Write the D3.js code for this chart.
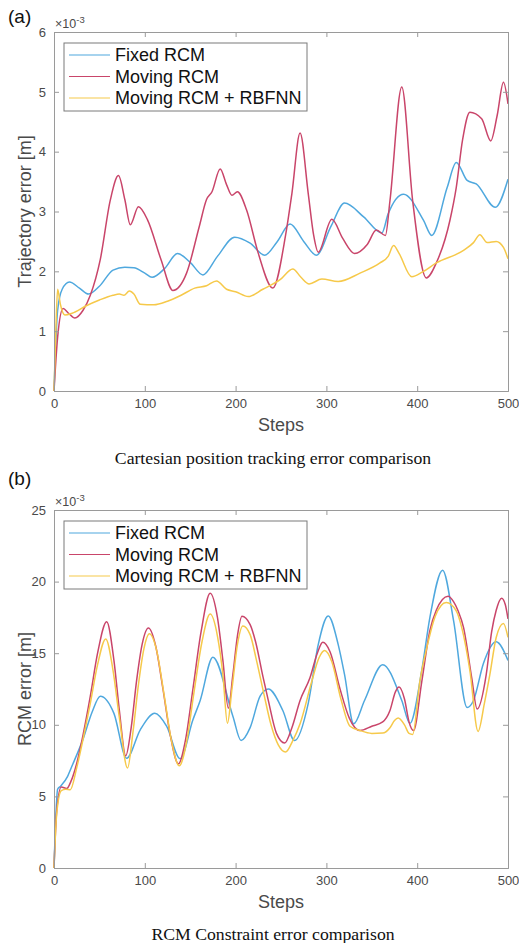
<!DOCTYPE html>
<html>
<head>
<meta charset="utf-8">
<script src="https://cdn.jsdelivr.net/npm/d3@7"></script>
<style>
  body { margin: 0; background: #fff; }
  svg { display: block; }
</style>
</head>
<body>
<svg id="chart"></svg>
<script>
// ---- data (values in units of 1e-3 m) ----
const seriesNames = ['Fixed RCM', 'Moving RCM', 'Moving RCM + RBFNN'];
const seriesColors = ['#4fa8de', '#c9456a', '#f6c94a'];
const xTicks = [0, 100, 200, 300, 400, 500];

// (a) trajectory error
const fixedTrajSteps = [0, 4, 9, 17, 28, 38, 50, 65, 78, 88, 100, 108, 122, 136, 150, 164, 180, 199, 216, 232, 246, 260, 275, 289, 305, 320, 341, 361, 368, 385, 407, 416, 433, 443, 455, 465, 486, 500];
const fixedTrajValues = [0, 1.35, 1.7, 1.82, 1.72, 1.62, 1.75, 2.02, 2.07, 2.06, 1.97, 1.9, 2.05, 2.3, 2.15, 1.94, 2.25, 2.57, 2.47, 2.27, 2.5, 2.79, 2.5, 2.27, 2.75, 3.14, 2.91, 2.64, 2.96, 3.29, 2.85, 2.6, 3.4, 3.82, 3.52, 3.46, 3.07, 3.54];

const movingTrajSteps = [0, 4, 10, 16, 23, 32, 40, 51, 62, 71, 78, 84, 93, 103, 118, 131, 146, 160, 168, 174, 183, 190, 196, 202, 212, 225, 241, 255, 262, 271, 280, 286, 291, 306, 318, 331, 345, 355, 365, 370, 383, 395, 410, 421, 436, 443, 450, 458, 471, 481, 488, 495, 500];
const movingTrajValues = [0, 0.9, 1.38, 1.3, 1.22, 1.35, 1.6, 2.2, 3.19, 3.6, 3.2, 2.78, 3.08, 2.86, 2.19, 1.68, 1.97, 2.75, 3.2, 3.33, 3.71, 3.45, 3.27, 3.33, 3.03, 2.3, 1.72, 2.6, 3.3, 4.31, 3.3, 2.6, 2.32, 2.87, 2.55, 2.3, 2.45, 2.69, 2.6, 3.18, 5.08, 3.18, 1.89, 2.14, 2.85, 3.4, 4.2, 4.66, 4.55, 4.18, 4.6, 5.16, 4.8];

const rbfTrajSteps = [0, 2, 4, 7, 12, 20, 35, 50, 65, 72, 77, 83, 88, 95, 110, 125, 140, 155, 168, 179, 190, 200, 214, 230, 249, 263, 272, 281, 295, 313, 337, 359, 368, 374, 380, 394, 406, 421, 451, 462, 469, 477, 487, 495, 500];
const rbfTrajValues = [0, 1.0, 1.7, 1.45, 1.27, 1.3, 1.42, 1.52, 1.6, 1.62, 1.6, 1.67, 1.62, 1.45, 1.44, 1.5, 1.6, 1.72, 1.76, 1.84, 1.7, 1.66, 1.58, 1.7, 1.86, 2.04, 1.9, 1.79, 1.87, 1.83, 1.97, 2.14, 2.25, 2.43, 2.3, 1.91, 1.99, 2.14, 2.35, 2.48, 2.61, 2.48, 2.5, 2.4, 2.21];

// (b) RCM constraint error
const fixedRcmSteps = [0, 4, 7, 15, 19, 32, 42, 51, 66, 80, 95, 111, 124, 139, 153, 161, 175, 197, 206, 216, 227, 236, 252, 265, 280, 291, 302, 313, 320, 330, 342, 362, 383, 392, 405, 414, 428, 440, 455, 462, 473, 487, 500];
const fixedRcmValues = [0, 5.5, 5.7, 6.4, 7.0, 9.0, 10.9, 12.0, 10.8, 7.67, 9.65, 10.8, 9.9, 7.63, 10.35, 11.7, 14.72, 10.6, 8.9, 9.8, 12.0, 12.5, 11.0, 8.9, 11.5, 15.6, 17.6, 15.6, 13.5, 10.07, 11.7, 14.2, 11.7, 10.1, 13.8, 17.5, 20.8, 17.3, 11.2, 11.7, 14.3, 15.8, 14.5];

const movingRcmSteps = [0, 3, 8, 14, 19, 25, 32, 40, 48, 58, 66, 72, 79, 85, 91, 97, 104, 112, 120, 128, 137, 145, 153, 162, 172, 180, 186, 192, 197, 202, 207, 216, 222, 230, 236, 245, 254, 262, 271, 282, 290, 296, 304, 315, 325, 337, 350, 362, 370, 376, 380, 386, 391, 396, 405, 414, 421, 434, 440, 445, 451, 460, 466, 476, 482, 487, 493, 497, 500];
const movingRcmValues = [0, 4.0, 5.65, 5.55, 6.1, 7.3, 9.3, 12.0, 15.0, 17.2, 14.5, 11.0, 7.84, 9.8, 13.1, 15.6, 16.76, 15.5, 12.5, 9.3, 7.28, 9.0, 12.5, 16.5, 19.19, 17.5, 14.5, 11.16, 13.5, 16.2, 17.58, 17.0, 15.8, 13.4, 11.7, 9.4, 8.73, 9.8, 11.7, 13.3, 15.0, 15.76, 15.1, 12.5, 10.5, 9.6, 9.9, 10.2, 11.0, 12.3, 12.64, 11.8, 10.2, 9.6, 13.0, 16.6, 18.0, 18.98, 18.6, 17.96, 16.8, 13.3, 11.1, 13.5, 16.5, 18.0, 18.84, 18.4, 17.4];

const rbfRcmSteps = [0, 3, 8, 13, 18, 25, 32, 40, 48, 57, 65, 72, 81, 87, 93, 99, 105, 113, 121, 129, 138, 146, 154, 163, 172, 180, 186, 191, 196, 202, 208, 216, 223, 231, 239, 247, 255, 263, 271, 284, 292, 298, 306, 316, 326, 337, 350, 362, 370, 375, 379, 386, 391, 395, 403, 411, 420, 432, 443, 449, 458, 467, 474, 480, 487, 495, 500];
const rbfRcmValues = [0, 3.8, 5.4, 5.5, 5.47, 7.0, 9.0, 11.5, 14.2, 16.0, 13.8, 10.5, 6.98, 9.5, 12.8, 15.3, 16.35, 15.2, 12.2, 9.0, 7.14, 8.8, 12.2, 15.8, 17.73, 16.2, 13.5, 10.1, 12.5, 15.6, 16.9, 16.3, 14.5, 12.2, 10.0, 8.6, 8.1, 8.9, 10.07, 13.06, 14.7, 15.19, 14.4, 11.8, 9.9, 9.6, 9.4, 9.42, 9.8, 10.3, 10.48, 10.0, 9.4, 9.33, 13.06, 15.5, 17.6, 18.54, 17.96, 16.8, 13.8, 9.54, 11.5, 13.5, 16.1, 17.08, 16.1];

const trajYTicks = [0, 1, 2, 3, 4, 5, 6];
const rcmYTicks = [0, 5, 10, 15, 20, 25];

// ---- layout ----
const W = 519, H = 943;
const svg = d3.select('svg#chart').attr('width', W).attr('height', H);
const sans = '"Liberation Sans", Arial, Helvetica, sans-serif';
const serif = '"Liberation Serif", "Times New Roman", serif';

function zip(steps, values) {
  return steps.map((s, i) => ({x: s, y: values[i]}));
}

function drawPanel(opt) {
  const x = d3.scaleLinear().domain([0, 500]).range([54, 508]);
  const y = d3.scaleLinear().domain(opt.yDomain).range([opt.bottom, opt.top]);
  const g = svg.append('g');
  const axisColor = '#9a9a9a';
  const textColor = '#4a4a4a';

  // panel letter
  g.append('text').attr('x', 8).attr('y', opt.letterY)
    .attr('font-family', sans).attr('font-size', 19).attr('fill', '#111')
    .text(opt.letter);

  // series
  const line = d3.line().x(d => x(d.x)).y(d => y(d.y)).curve(d3.curveMonotoneX);
  const plot = g.append('g');
  opt.series.forEach((s, i) => {
    plot.append('path')
      .datum(s)
      .attr('fill', 'none')
      .attr('stroke', seriesColors[i])
      .attr('stroke-width', 1.5)
      .attr('stroke-linejoin', 'round')
      .attr('d', line);
  });

  // axes, MATLAB-ish box with inward ticks
  g.append('g').attr('transform', `translate(0,${opt.bottom})`)
    .call(d3.axisBottom(x).tickValues(xTicks).tickSize(-5).tickPadding(8))
    .call(a => a.select('.domain').attr('stroke', axisColor))
    .call(a => a.selectAll('line').attr('stroke', axisColor))
    .call(a => a.selectAll('text').attr('fill', textColor).attr('font-size', 13).attr('font-family', sans));
  g.append('g').attr('transform', `translate(0,${opt.top})`)
    .call(d3.axisTop(x).tickValues(xTicks).tickSize(-5).tickFormat(''))
    .call(a => a.select('.domain').attr('stroke', axisColor))
    .call(a => a.selectAll('line').attr('stroke', axisColor));
  g.append('g').attr('transform', `translate(54,0)`)
    .call(d3.axisLeft(y).tickValues(opt.yTicks).tickSize(-5).tickPadding(8).tickFormat(d3.format('d')))
    .call(a => a.select('.domain').attr('stroke', axisColor))
    .call(a => a.selectAll('line').attr('stroke', axisColor))
    .call(a => a.selectAll('text').attr('fill', textColor).attr('font-size', 13).attr('font-family', sans));
  g.append('g').attr('transform', `translate(508,0)`)
    .call(d3.axisRight(y).tickValues(opt.yTicks).tickSize(-5).tickFormat(''))
    .call(a => a.select('.domain').attr('stroke', axisColor))
    .call(a => a.selectAll('line').attr('stroke', axisColor));

  // exponent
  const ex = g.append('text').attr('x', 55).attr('y', opt.top - 4)
    .attr('font-family', sans).attr('font-size', 12.5).attr('fill', textColor);
  ex.append('tspan').text('\u00d710');
  ex.append('tspan').attr('dy', -5).attr('font-size', 9.5).text('-3');

  // axis titles
  g.append('text').attr('x', 281).attr('y', opt.bottom + 40)
    .attr('text-anchor', 'middle').attr('font-family', sans).attr('font-size', 18).attr('fill', textColor)
    .text('Steps');
  g.append('text')
    .attr('transform', `translate(31,${(opt.top + opt.bottom) / 2}) rotate(-90)`)
    .attr('text-anchor', 'middle').attr('font-family', sans).attr('font-size', 18).attr('fill', textColor)
    .text(opt.yLabel);

  // legend
  const lg = g.append('g').attr('transform', `translate(64,${opt.top + 11})`);
  lg.append('rect').attr('width', 243).attr('height', 68)
    .attr('fill', '#fff').attr('stroke', '#7a7a7a').attr('stroke-width', 1);
  seriesNames.forEach((n, i) => {
    const yy = 12 + i * 21.5;
    lg.append('line').attr('x1', 5).attr('x2', 46).attr('y1', yy).attr('y2', yy)
      .attr('stroke', seriesColors[i]).attr('stroke-width', 1.2);
    lg.append('text').attr('x', 51).attr('y', yy).attr('dy', '0.35em')
      .attr('font-family', sans).attr('font-size', 18).attr('fill', '#111')
      .text(n);
  });

  // caption
  g.append('text').attr('x', 273).attr('y', opt.captionY)
    .attr('text-anchor', 'middle').attr('font-family', serif).attr('font-size', 17.7).attr('fill', '#111')
    .text(opt.caption);
}

drawPanel({
  letter: '(a)', letterY: 23,
  top: 32, bottom: 391, yDomain: [0, 6], yTicks: trajYTicks,
  yLabel: 'Trajectory error [m]',
  caption: 'Cartesian position tracking error comparison', captionY: 464,
  series: [zip(fixedTrajSteps, fixedTrajValues), zip(movingTrajSteps, movingTrajValues), zip(rbfTrajSteps, rbfTrajValues)]
});

drawPanel({
  letter: '(b)', letterY: 485,
  top: 510, bottom: 868, yDomain: [0, 25], yTicks: rcmYTicks,
  yLabel: 'RCM error [m]',
  caption: 'RCM Constraint error comparison', captionY: 940,
  series: [zip(fixedRcmSteps, fixedRcmValues), zip(movingRcmSteps, movingRcmValues), zip(rbfRcmSteps, rbfRcmValues)]
});
</script>
</body>
</html>
